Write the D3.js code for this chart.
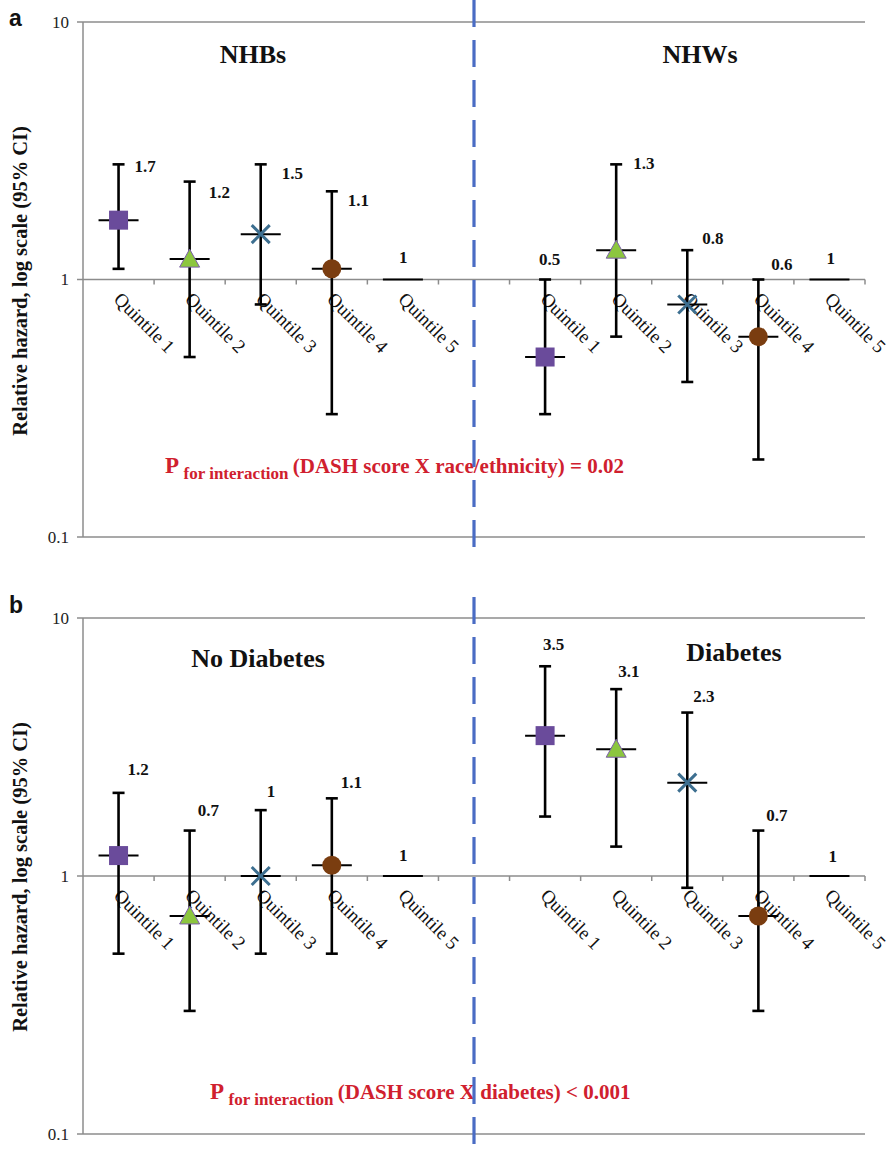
<!DOCTYPE html>
<html><head><meta charset="utf-8">
<script src="https://cdn.jsdelivr.net/npm/d3@7"></script>
<style>body{margin:0;background:#fff}svg{display:block}svg text{font-family:"Liberation Serif","Times New Roman",Times,serif}</style>
</head><body>
<script>
// ---------- data ----------
const categories = ["Quintile 1","Quintile 2","Quintile 3","Quintile 4","Quintile 5","",
                    "Quintile 1","Quintile 2","Quintile 3","Quintile 4","Quintile 5"];
const yTicks = [0.1, 1, 10];
const yTickLabels = ["0.1", "1", "10"];

const groupsA = ["NHBs", "NHWs"];
const estA = [1.7, 1.2, 1.5, 1.1, 1, 0.5, 1.3, 0.8, 0.6, 1];
const loA  = [1.1, 0.5, 0.8, 0.3, null, 0.3, 0.6, 0.4, 0.2, null];
const hiA  = [2.8, 2.4, 2.8, 2.2, null, 1.0, 2.8, 1.3, 1.0, null];
const pTextA = ["P", "for interaction", "(DASH score X race/ethnicity) = 0.02"];

const groupsB = ["No Diabetes", "Diabetes"];
const estB = [1.2, 0.7, 1.0, 1.1, 1, 3.5, 3.1, 2.3, 0.7, 1];
const loB  = [0.5, 0.3, 0.5, 0.5, null, 1.7, 1.3, 0.9, 0.3, null];
const hiB  = [2.1, 1.5, 1.8, 2.0, null, 6.5, 5.3, 4.3, 1.5, null];
const pTextB = ["P", "for interaction", "(DASH score X diabetes) < 0.001"];

const markerKinds = ["square", "triangle", "cross", "circle", "none"];
const yTitle = "Relative hazard, log scale (95% CI)";

// ---------- layout (not data) ----------
const W = 892, H = 1153;
const SERIF = "'Liberation Serif','Times New Roman',Times,serif";
const labelNudgeA = [[16,2],[19,10],[21,9],[16,9],[-4,-22],[-6,-20],[17,-1],[15,-12],[13,-15],[-3,-21]];
const labelNudgeB = [[9,-24],[8,-21],[6,-19],[9,-16],[-4,-21],[-2,-22],[2,-18],[6,-17],[8,-16],[-1,-20]];

const svg = d3.select("body").append("svg").attr("width", W).attr("height", H)
  .attr("font-family", SERIF);

const colors = {square:"#6a4b9b", triangle:"#8cc63f", triStroke:"#7b5ea9", cross:"#3d6f90", circle:"#7a3d10"};

function panel(cfg) {
  const g = svg.append("g").attr("font-family", SERIF);
  const x = d3.scaleBand().domain(d3.range(categories.length)).range([83, 865]).padding(0);
  const y = d3.scaleLog().domain([0.1, 10]).range([cfg.bottom, cfg.top]);
  const grid = "#8c8c8c";

  g.selectAll("line.grid").data(yTicks).join("line")
    .attr("x1", 83).attr("x2", 865).attr("y1", d => y(d)).attr("y2", d => y(d))
    .attr("stroke", grid).attr("stroke-width", 1.5);
  g.append("line").attr("x1", 83).attr("x2", 83).attr("y1", y(10)).attr("y2", y(0.1))
    .attr("stroke", grid).attr("stroke-width", 1.5);
  g.selectAll("line.yt").data(yTicks).join("line")
    .attr("x1", 77).attr("x2", 83).attr("y1", d => y(d)).attr("y2", d => y(d))
    .attr("stroke", grid).attr("stroke-width", 1.5);
  g.selectAll("text.yl").data(yTicks).join("text")
    .attr("x", 69).attr("y", d => y(d)).attr("dy", "0.35em").attr("font-family", SERIF)
    .attr("text-anchor", "end").attr("font-size", 17).attr("fill", "#222")
    .text((d, i) => yTickLabels[i]);
  const bounds = d3.range(1, categories.length + 1).map(i => 83 + i * x.bandwidth());
  g.selectAll("line.xt").data(bounds).join("line")
    .attr("x1", d => d).attr("x2", d => d).attr("y1", y(1)).attr("y2", y(1) + 5)
    .attr("stroke", grid).attr("stroke-width", 1.5);

  g.append("text").attr("transform", `translate(27,${cfg.titleY}) rotate(-90)`)
    .attr("text-anchor", "middle").attr("font-weight", "bold").attr("font-size", 20.5).attr("font-family", SERIF)
    .attr("fill", "#111").text(yTitle);

  g.append("text").attr("x", 9).attr("y", cfg.letterY)
    .style("font-family", "'Liberation Sans',Arial,sans-serif")
    .attr("font-weight", "bold").attr("font-size", 23).attr("fill", "#111").text(cfg.letter);

  g.selectAll("text.cat").data(categories).join("text")
    .attr("transform", (d, i) => `translate(${x(i) + x.bandwidth()/2 - 1},${y(1) + 16}) rotate(45)`)
    .attr("font-size", 19).attr("fill", "#111").attr("dy", "0.35em").attr("font-family", SERIF)
    .text(d => d);

  const pts = cfg.est.map((e, k) => ({e, lo: cfg.lo[k], hi: cfg.hi[k], idx: k < 5 ? k : k + 1,
                                      kind: markerKinds[k % 5], k}));
  const cx = d => x(d.idx) + x.bandwidth()/2;

  const eg = g.selectAll("g.pt").data(pts).join("g");
  eg.filter(d => d.lo != null).each(function(d) {
    const s = d3.select(this), c = cx(d);
    s.append("line").attr("x1", c).attr("x2", c).attr("y1", y(d.lo)).attr("y2", y(d.hi))
      .attr("stroke", "#000").attr("stroke-width", 2.6);
    [d.lo, d.hi].forEach(v => s.append("line").attr("x1", c - 6).attr("x2", c + 6)
      .attr("y1", y(v)).attr("y2", y(v)).attr("stroke", "#000").attr("stroke-width", 2.6));
  });
  eg.append("line").attr("x1", d => cx(d) - 20).attr("x2", d => cx(d) + 20)
    .attr("y1", d => y(d.e)).attr("y2", d => y(d.e)).attr("stroke", "#000").attr("stroke-width", 2);
  eg.each(function(d) {
    const s = d3.select(this), c = cx(d), yy = y(d.e);
    if (d.kind === "square") {
      s.append("rect").attr("x", c - 9.5).attr("y", yy - 9.5).attr("width", 19).attr("height", 19)
        .attr("fill", colors.square);
    } else if (d.kind === "triangle") {
      s.append("path").attr("d", `M${c},${yy - 10}L${c + 10},${yy + 8}L${c - 10},${yy + 8}Z`)
        .attr("fill", colors.triangle).attr("stroke", colors.triStroke).attr("stroke-width", 1);
    } else if (d.kind === "cross") {
      s.append("path").attr("d", `M${c-9},${yy-9}L${c+9},${yy+9}M${c-9},${yy+9}L${c+9},${yy-9}`)
        .attr("stroke", colors.cross).attr("stroke-width", 3);
    } else if (d.kind === "circle") {
      s.append("circle").attr("cx", c).attr("cy", yy).attr("r", 9.5).attr("fill", colors.circle);
    }
  });
  eg.append("text")
    .attr("x", d => cx(d) + cfg.nudge[d.k][0])
    .attr("y", d => y(d.hi != null ? d.hi : d.e) + cfg.nudge[d.k][1])
    .attr("dy", "0.35em").attr("font-weight", "bold").attr("font-size", 17).attr("fill", "#111")
    .attr("font-family", SERIF)
    .text(d => d3.format("")(d.e));

  cfg.groups.forEach((t, i) => {
    g.append("text").attr("x", cfg.headX[i]).attr("y", cfg.headY[i]).attr("text-anchor", "middle")
      .attr("font-family", SERIF)
      .attr("font-weight", "bold").attr("font-size", 26).attr("fill", "#111").text(t);
  });

  const pt = g.append("text").attr("x", cfg.pX).attr("y", cfg.pY).attr("fill", "#d0202e")
    .attr("font-family", SERIF).attr("font-weight", "bold");
  pt.append("tspan").attr("font-size", 23).text(cfg.p[0] + " ");
  pt.append("tspan").attr("font-size", 17).attr("dy", 6).text(cfg.p[1] + " ");
  pt.append("tspan").attr("font-size", 21).attr("dy", -6).text(cfg.p[2]);

  g.append("line").attr("x1", x(5) + x.bandwidth()/2).attr("x2", x(5) + x.bandwidth()/2)
    .attr("y1", cfg.divTop).attr("y2", cfg.divBottom)
    .attr("stroke", "#4a6cc4").attr("stroke-width", 3.2).attr("stroke-dasharray", "27,13");
}

panel({top: 22, bottom: 537, est: estA, lo: loA, hi: hiA, nudge: labelNudgeA, groups: groupsA,
       headX: [253, 700], headY: [63, 63], p: pTextA, pX: 165, pY: 473, letter: "a", letterY: 26,
       titleY: 281, divTop: 0, divBottom: 552});
panel({top: 618, bottom: 1134, est: estB, lo: loB, hi: hiB, nudge: labelNudgeB, groups: groupsB,
       headX: [258, 734], headY: [667, 661], p: pTextB, pX: 210, pY: 1099, letter: "b", letterY: 613,
       titleY: 877, divTop: 597, divBottom: 1153});
</script>
</body></html>
